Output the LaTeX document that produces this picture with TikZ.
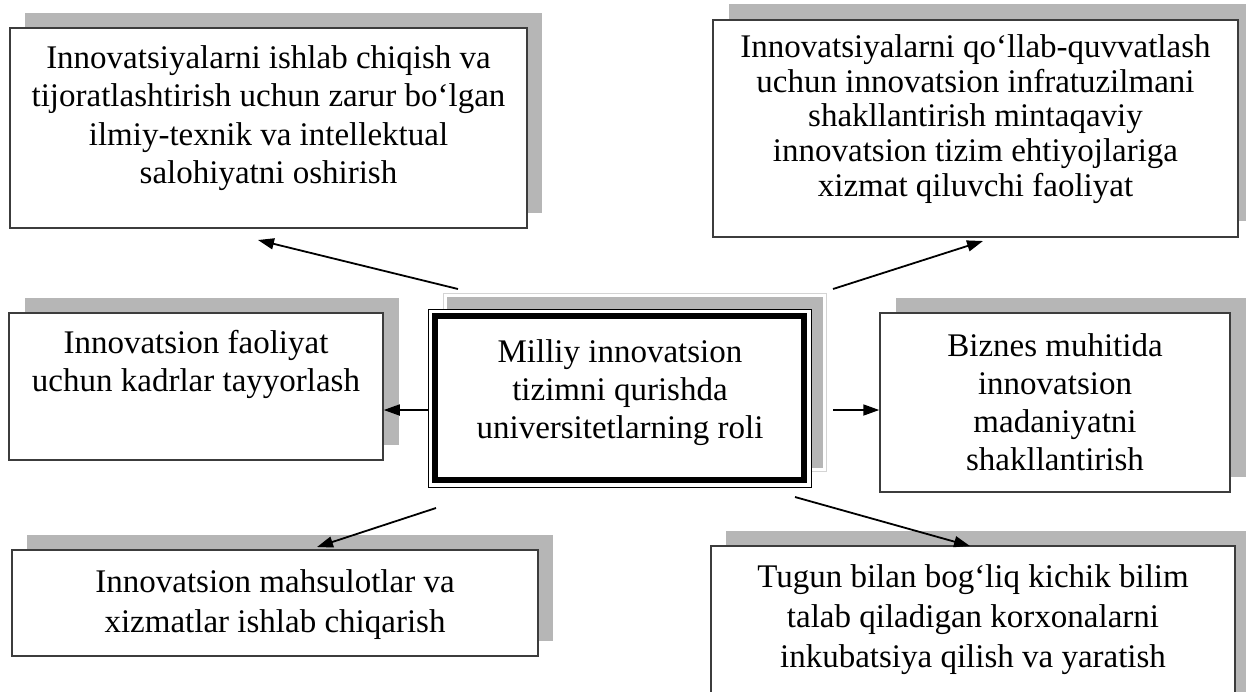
\documentclass[tikz,border=0pt]{standalone}
\usepackage{fontspec}
\setmainfont{Liberation Serif}
\usetikzlibrary{arrows.meta,calc}
\definecolor{shadowgray}{RGB}{182,182,182}
\definecolor{framegray}{RGB}{60,60,60}
\definecolor{lightedge}{RGB}{212,212,212}
\begin{document}
\begin{tikzpicture}[x=1pt,y=-1pt,
  box/.style={draw=framegray, line width=1.5pt, fill=white, inner sep=0pt},
  shade/.style={fill=shadowgray},
  txt/.style={align=center, inner sep=0pt},
  conn/.style={line width=1.8pt, -{Triangle[length=16pt,width=11pt]}}]
\clip (0,0) rectangle (1246,691);
\fill[white] (0,0) rectangle (1246,691);

% box positions
\path
  (268.5,128) coordinate (p1)
  (975.5,128.5) coordinate (p2)
  (196,386.5) coordinate (p3)
  (1055,402.5) coordinate (p4)
  (275,603) coordinate (p5)
  (973,643) coordinate (p6)
  (619.5,398) coordinate (pc);

% shadows
\fill[shade] ($(p1)+(-258.5+15,-100-15)$) rectangle ($(p1)+(258.5+15,100-15)$);
\fill[shade] ($(p2)+(-262.5+16,-108.5-16)$) rectangle ($(p2)+(262.5+16,108.5-16)$);
\fill[shade] ($(p3)+(-187+16,-73.5-15)$) rectangle ($(p3)+(187+16,73.5-15)$);
\fill[shade] ($(p4)+(-175+16,-89.5-15)$) rectangle ($(p4)+(175+16,89.5-15)$);
\fill[shade] ($(p5)+(-263+15,-53-15)$) rectangle ($(p5)+(263+15,53-15)$);
\fill[shade] ($(p6)+(-262+15,-97-15)$) rectangle ($(p6)+(262+15,97-15)$);
% central shadow
\draw[lightedge, line width=1.3pt] ($(pc)+(-191.5+15.5,-89-15.5)$) rectangle ($(pc)+(191.5+15.5,89-15.5)$);
\fill[shade] ($(pc)+(-191.5+19,-89-12)$) rectangle ($(pc)+(191.5+12,89-19)$);

% boxes
\node[box, minimum width=517pt, minimum height=200pt] (b1) at (p1) {};
\node[box, minimum width=525pt, minimum height=217pt] (b2) at (p2) {};
\node[box, minimum width=374pt, minimum height=147pt] (b3) at (p3) {};
\node[box, minimum width=350pt, minimum height=179pt] (b4) at (p4) {};
\node[box, minimum width=526pt, minimum height=106pt] (b5) at (p5) {};
\node[box, minimum width=524pt, minimum height=194pt] (b6) at (p6) {};

% central box: thin outer line, thick inner frame
\node[draw=black, line width=1pt, fill=white, inner sep=0pt,
      minimum width=383pt, minimum height=178pt] (c) at (pc) {};
\draw[line width=6.5pt] ([shift={(7.3,7.3)}]c.north west) rectangle ([shift={(-7.3,-7.3)}]c.south east);

% texts
\node[txt, font=\fontsize{33}{38.5}\selectfont] (t1) at (268.5,118)
  {Innovatsiyalarni ishlab chiqish va\\tijoratlashtirish uchun zarur bo‘lgan\\ilmiy-texnik va intellektual\\salohiyatni oshirish};
\node[txt, font=\fontsize{33}{34.7}\selectfont] (t2) at (975.5,119)
  {Innovatsiyalarni qo‘llab-quvvatlash\\uchun innovatsion infratuzilmani\\shakllantirish mintaqaviy\\innovatsion tizim ehtiyojlariga\\xizmat qiluvchi faoliyat};
\node[txt, font=\fontsize{33}{38}\selectfont] (t3) at (196,364.5)
  {Innovatsion faoliyat\\uchun kadrlar tayyorlash};
\node[txt, font=\fontsize{33}{38}\selectfont] (t4) at (1055,402.5)
  {Biznes muhitida\\innovatsion\\madaniyatni\\shakllantirish};
\node[txt, font=\fontsize{33}{40}\selectfont] (t5) at (275,605)
  {Innovatsion mahsulotlar va\\xizmatlar ishlab chiqarish};
\node[txt, font=\fontsize{33}{40}\selectfont] (t6) at (973,620)
  {Tugun bilan bog‘liq kichik bilim\\talab qiladigan korxonalarni\\inkubatsiya qilish va yaratish};
\node[txt, font=\fontsize{33}{38}\selectfont] (tc) at (620,392.5)
  {Milliy innovatsion\\tizimni qurishda\\universitetlarning roli};

% connector end points
\coordinate (a1s) at (458,289);  \coordinate (a1e) at (258,240);
\coordinate (a2s) at (833,289);  \coordinate (a2e) at (983,241);
\coordinate (a3s) at (c.west |- 0,410); \coordinate (a3e) at (b3.east |- 0,410);
\coordinate (a4s) at (833,410);  \coordinate (a4e) at (b4.west |- 0,410);
\coordinate (a5s) at (436,508);  \coordinate (a5e) at (317,547);
\coordinate (a6s) at (795,497);  \coordinate (a6e) at (970,546);

\draw[conn] (a1s) -- (a1e);
\draw[conn] (a2s) -- (a2e);
\draw[conn] (a3s) -- (a3e);
\draw[conn] (a4s) -- (a4e);
\draw[conn] (a5s) -- (a5e);
\draw[conn] (a6s) -- (a6e);
\end{tikzpicture}
\end{document}
